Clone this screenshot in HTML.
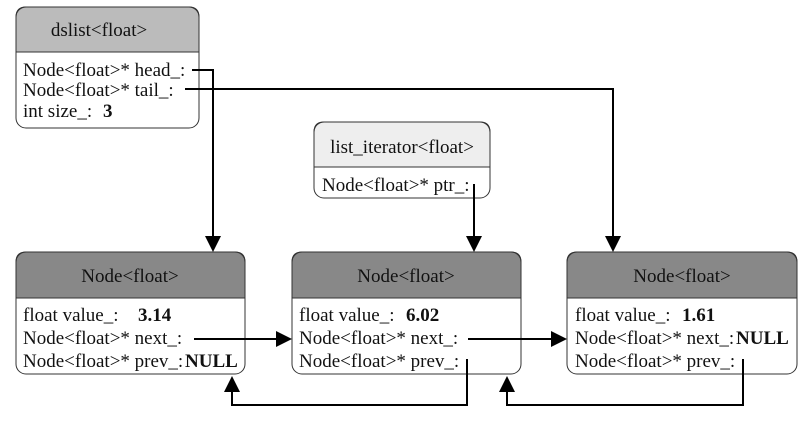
<!DOCTYPE html>
<html><head><meta charset="utf-8"><style>
html,body{margin:0;padding:0;background:#fff;}
svg{display:block;}
text{font-family:"Liberation Serif","Times New Roman",serif;}
</style></head><body>
<svg width="810" height="422" viewBox="0 0 810 422" xmlns="http://www.w3.org/2000/svg" font-family="Liberation Serif, serif">
<g stroke="#333" stroke-width="1">
<path d="M16,52 V17 Q16,7 26,7 H189 Q199,7 199,17 V52 Z" fill="#bbbbbb"/>
<rect x="16" y="7" width="183" height="121" rx="10" fill="none"/>
<line x1="16" y1="52" x2="199" y2="52"/>
<path d="M314,167 V132 Q314,122 324,122 H480 Q490,122 490,132 V167 Z" fill="#eeeeee"/>
<rect x="314" y="122" width="176" height="76" rx="10" fill="none"/>
<line x1="314" y1="167" x2="490" y2="167"/>
<path d="M16,298 V262 Q16,252 26,252 H235 Q245,252 245,262 V298 Z" fill="#888888"/>
<rect x="16" y="252" width="229" height="122" rx="10" fill="none"/>
<line x1="16" y1="298" x2="245" y2="298"/>
<path d="M292,298 V262 Q292,252 302,252 H511 Q521,252 521,262 V298 Z" fill="#888888"/>
<rect x="292" y="252" width="229" height="122" rx="10" fill="none"/>
<line x1="292" y1="298" x2="521" y2="298"/>
<path d="M567,298 V262 Q567,252 577,252 H787 Q797,252 797,262 V298 Z" fill="#888888"/>
<rect x="567" y="252" width="230" height="122" rx="10" fill="none"/>
<line x1="567" y1="298" x2="797" y2="298"/>
</g>
<g stroke="#000" stroke-width="2" fill="none">
<polyline points="192,70 213,70 213,236"/>
<polyline points="185,89 613,89 613,236"/>
<line x1="474" y1="184" x2="474" y2="236"/>
<line x1="194" y1="339" x2="276" y2="339"/>
<line x1="468" y1="339" x2="551" y2="339"/>
<polyline points="467,359 467,405 232,405 232,392"/>
<polyline points="743,359 743,405 507,405 507,392"/>
</g>
<g fill="#000">
<polygon points="205,236 221,236 213,252"/>
<polygon points="605,236 621,236 613,252"/>
<polygon points="466,236 482,236 474,252"/>
<polygon points="276,331 276,347 292,339"/>
<polygon points="551,331 551,347 567,339"/>
<polygon points="224,392 240,392 232,376"/>
<polygon points="499,392 515,392 507,376"/>
</g>
<g font-size="19" fill="#111">
<text x="99" y="36" text-anchor="middle">dslist&lt;float&gt;</text>
<text x="23" y="76">Node&lt;float&gt;* head_:</text>
<text x="23" y="96">Node&lt;float&gt;* tail_:</text>
<text x="23" y="117">int size_:</text><text x="103" y="117" font-weight="bold">3</text>
<text x="402" y="153" text-anchor="middle">list_iterator&lt;float&gt;</text>
<text x="322" y="191">Node&lt;float&gt;* ptr_:</text>
<text x="130" y="282" text-anchor="middle">Node&lt;float&gt;</text>
<text x="406" y="282" text-anchor="middle">Node&lt;float&gt;</text>
<text x="682" y="282" text-anchor="middle">Node&lt;float&gt;</text>
<text x="23" y="321">float value_:</text><text x="138" y="321" font-weight="bold">3.14</text>
<text x="23" y="344">Node&lt;float&gt;* next_:</text>
<text x="23" y="367">Node&lt;float&gt;* prev_:</text><text x="185" y="367" font-weight="bold">NULL</text>
<text x="299" y="321">float value_:</text><text x="406" y="321" font-weight="bold">6.02</text>
<text x="299" y="344">Node&lt;float&gt;* next_:</text>
<text x="299" y="367">Node&lt;float&gt;* prev_:</text>
<text x="575" y="321">float value_:</text><text x="682" y="321" font-weight="bold">1.61</text>
<text x="575" y="344">Node&lt;float&gt;* next_:</text><text x="736" y="344" font-weight="bold">NULL</text>
<text x="575" y="367">Node&lt;float&gt;* prev_:</text>
</g>
</svg>
</body></html>
